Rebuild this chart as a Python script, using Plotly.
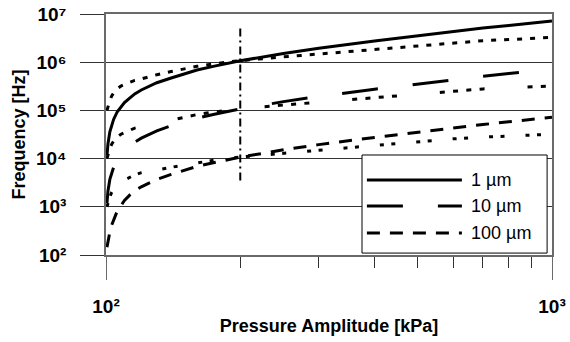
import plotly.graph_objects as go

# ---------------- data ----------------
pressure_kpa = [100.5, 101, 102, 103, 104, 106, 108, 110, 113, 116, 120, 125, 130, 140,
                150, 160, 175, 200, 250, 300, 400, 500, 600, 700, 800, 900, 1000]

freq_1um = [1.15e4, 2.0e4, 3.6e4, 5.0e4, 6.5e4, 9.4e4, 1.2e5, 1.45e5, 1.8e5, 2.2e5, 2.65e5,
            3.15e5, 3.75e5, 4.7e5, 5.8e5, 6.9e5, 8.3e5, 1.07e6, 1.52e6, 1.95e6, 2.75e6,
            3.55e6, 4.35e6, 5.1e6, 5.8e6, 6.5e6, 7.2e6]

freq_10um = [1.2e3, 2.1e3, 3.7e3, 5.1e3, 6.6e3, 9.3e3, 1.2e4, 1.45e4, 1.8e4, 2.2e4, 2.65e4,
             3.15e4, 3.75e4, 4.8e4, 5.8e4, 6.9e4, 8.3e4, 1.07e5, 1.52e5, 1.95e5, 2.75e5,
             3.55e5, 4.35e5, 5.1e5, 5.8e5, 6.5e5, 7.2e5]

freq_100um = [1.45e2, 2.0e2, 3.0e2, 4.2e2, 5.3e2, 8.2e2, 1.05e3, 1.35e3, 1.75e3, 2.15e3, 2.6e3,
              3.1e3, 3.7e3, 4.7e3, 5.8e3, 6.9e3, 8.3e3, 1.07e4, 1.52e4, 1.95e4, 2.75e4,
              3.55e4, 4.35e4, 5.1e4, 5.8e4, 6.5e4, 7.2e4]

freq_dot_hi = [1.0e5, 1.2e5, 1.6e5, 2.0e5, 2.3e5, 2.8e5, 3.2e5, 3.45e5, 3.8e5, 4.2e5, 4.5e5,
               5.0e5, 5.5e5, 6.4e5, 7.3e5, 8.2e5, 9.3e5, 1.08e6, 1.29e6, 1.48e6, 1.86e6,
               2.24e6, 2.57e6, 2.79e6, 2.95e6, 3.13e6, 3.27e6]

freq_dot_mid = [1.0e4, 1.2e4, 1.6e4, 2.0e4, 2.3e4, 2.8e4, 3.2e4, 3.45e4, 3.8e4, 4.3e4, 4.6e4,
                5.0e4, 5.5e4, 6.4e4, 7.3e4, 8.2e4, 9.3e4, 1.08e5, 1.29e5, 1.48e5, 1.86e5,
                2.24e5, 2.57e5, 2.79e5, 2.95e5, 3.13e5, 3.2e5]

freq_dot_lo = [1.0e3, 1.2e3, 1.6e3, 2.0e3, 2.3e3, 2.8e3, 3.3e3, 3.6e3, 4.1e3, 4.6e3, 5.1e3,
               5.4e3, 5.8e3, 6.6e3, 7.4e3, 8.2e3, 9.3e3, 1.08e4, 1.29e4, 1.48e4, 1.86e4,
               2.24e4, 2.57e4, 2.79e4, 2.95e4, 3.13e4, 3.2e4]

marker_p = [200, 200]
marker_f = [5.0e6, 3.0e3]

x_tickvals = [100, 1000]
x_ticktext = ["10²", "10³"]
x_minor_vals = [200, 300, 400, 500, 600, 700, 800, 900]
y_tickvals = [1e2, 1e3, 1e4, 1e5, 1e6, 1e7]
y_ticktext = ["10²", "10³", "10⁴", "10⁵", "10⁶", "10⁷"]
legend_labels = ["1 µm", "10 µm", "100 µm"]

# ---------------- styles ----------------
FONT = "Liberation Sans, Arial, sans-serif"
GRID = "#333333"
AXL = "#6a6a6a"
DASH_SOLID = "solid"
DASH_LONG = "36px,35px"
DASH_MED = "13px,10px"
DASH_DOT_HI = "5px,8px"
DASH_DOT_MID = "5px,8.3px,5px,8.3px,5px,8.3px,5px,43px"
DASH_DOT_LO = "4px,7.5px,4px,21px"

fig = go.Figure()

def add(y, dash, width=3, color="black"):
    fig.add_trace(go.Scatter(x=pressure_kpa, y=y, mode="lines", showlegend=False,
                             line=dict(color=color, width=width, dash=dash),
                             hoverinfo="skip"))

add(freq_dot_hi, DASH_DOT_HI)
add(freq_dot_mid, DASH_DOT_MID)
add(freq_dot_lo, DASH_DOT_LO)
add(freq_1um, DASH_SOLID)
add(freq_10um, DASH_LONG)
add(freq_100um, DASH_MED)

fig.add_trace(go.Scatter(x=marker_p, y=marker_f, mode="lines", showlegend=False,
                         line=dict(color="black", width=2, dash="8px,4px,2px,4px"),
                         hoverinfo="skip"))

# ---------------- custom legend (box with long line samples) ----------------
leg_x0, leg_x1, leg_y0, leg_y1 = 0.574, 0.989, 0.008, 0.415
row_y = [0.311, 0.203, 0.091]
sample_x0, sample_x1, text_x = 0.585, 0.798, 0.814
leg_dashes = [DASH_SOLID, DASH_LONG, DASH_MED]

shapes = [dict(type="rect", xref="paper", yref="paper", x0=leg_x0, x1=leg_x1,
               y0=leg_y0, y1=leg_y1, fillcolor="white",
               line=dict(color="black", width=1), layer="above")]
annotations = []
for lab, yy, dsh in zip(legend_labels, row_y, leg_dashes):
    shapes.append(dict(type="line", xref="paper", yref="paper", x0=sample_x0, x1=sample_x1,
                       y0=yy, y1=yy, line=dict(color="black", width=3, dash=dsh),
                       layer="above"))
    annotations.append(dict(xref="paper", yref="paper", x=text_x, y=yy, text=lab,
                            showarrow=False, xanchor="left", yanchor="middle",
                            font=dict(family=FONT, size=18, color="black")))

fig.update_layout(
    width=570, height=342,
    margin=dict(l=106, r=18, t=14, b=87, autoexpand=False),
    paper_bgcolor="white", plot_bgcolor="white",
    font=dict(family=FONT, color="black"),
    shapes=shapes, annotations=annotations,
    xaxis=dict(
        type="log", range=[2, 3], automargin=False,
        tickmode="array", tickvals=x_tickvals, ticktext=x_ticktext,
        ticks="outside", ticklen=23, tickwidth=1, tickcolor=AXL,
        showgrid=True, gridcolor=GRID, gridwidth=1,
        showline=True, linecolor=AXL, linewidth=1.5, mirror=True,
        zeroline=False, ticklabelstandoff=10,
        minor=dict(tickmode="array", tickvals=x_minor_vals, ticks="outside",
                   ticklen=11, tickwidth=1, tickcolor=GRID, showgrid=False),
        tickfont=dict(family=FONT, size=19, color="black", weight="bold"),
        title=dict(text="<b>Pressure Amplitude [kPa]</b>", standoff=4,
                   font=dict(family=FONT, size=18, color="black", weight="bold")),
    ),
    yaxis=dict(
        type="log", range=[2, 7], automargin=False,
        tickmode="array", tickvals=y_tickvals, ticktext=y_ticktext,
        ticks="outside", ticklen=24, tickwidth=1, tickcolor=GRID,
        showgrid=True, gridcolor=GRID, gridwidth=1,
        showline=True, linecolor=AXL, linewidth=1.5, mirror=True,
        zeroline=False, ticklabelstandoff=10,
        tickfont=dict(family=FONT, size=19, color="black", weight="bold"),
        title=dict(text="<b>Frequency [Hz]</b>", standoff=6,
                   font=dict(family=FONT, size=18, color="black", weight="bold")),
    ),
)

fig.write_html("out.html")
